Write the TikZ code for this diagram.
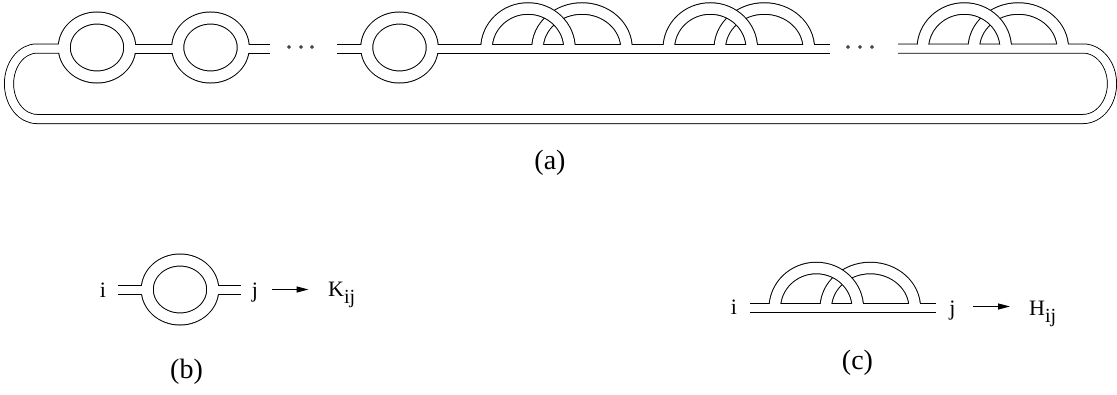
\documentclass[tikz,border=0pt]{standalone}
\usepackage{fontspec}
\setmainfont{Liberation Serif}
\usetikzlibrary{arrows.meta}
\tikzset{
  sB/.style={draw=black,line width=10pt},
  sW/.style={draw=white,line width=8pt},
  rB/.style={draw=black,line width=13pt},
  rW/.style={draw=white,line width=11pt},
  aB/.style={draw=black,line width=12.5pt},
  aW/.style={draw=white,line width=10.5pt},
  lbl/.style={inner sep=0pt,font=\fontsize{28}{30}\selectfont},
  txt/.style={inner sep=0pt,font=\fontsize{22}{24}\selectfont},
  arr/.style={line width=1pt,-{Triangle[length=12pt,width=6pt]}},
  dotc/.style={draw=black,line width=0.7pt}
}
\newcommand\mystrips[1]{%
  \draw[#1] (64.25,48.5) -- (37,48.5)
     arc[start angle=270,end angle=90,x radius=28,y radius=35.25]
     -- (1083,119)
     arc[start angle=90,end angle=-90,x radius=29,y radius=35.25]
     -- (898,48.5);
  \draw[#1] (129.75,48.5) -- (177.75,48.5);
  \draw[#1] (243.25,48.5) -- (270,48.5);
  \draw[#1] (337,48.5) -- (366.75,48.5);
  \draw[#1] (432.25,48.5) -- (830,48.5);
  \draw[#1] (118,289.5) -- (147.25,289.5);
  \draw[#1] (212.75,289.5) -- (241,289.5);
  \draw[#1] (750,308) -- (936,308);
}
\newcommand\myrings[1]{%
  \foreach \cx/\cy in {97/47.5,210.5/47.5,399.5/47.5,180/289.5}
    \draw[#1] (\cx,\cy) ellipse[x radius=32.75,y radius=29.5];
}
\newcommand\mysecondarches[1]{%
  \foreach \cx/\cy in {528/48.5,710.3/48.5,964.3/48.5,816.3/308}
    \draw[#1] (\cx+54-44.5,\cy) arc[start angle=180,end angle=360,x radius=44.5,y radius=40];
}
\newcommand\myfirstarches[1]{%
  \foreach \cx/\cy in {528/48.5,710.3/48.5,964.3/48.5,816.3/308}
    \draw[#1] (\cx-41.5,\cy) arc[start angle=180,end angle=360,x radius=41.5,y radius=40];
}
\newcommand\lowsub[1]{\raisebox{-7pt}{\fontsize{20}{20}\selectfont #1}}
\begin{document}
\begin{tikzpicture}[x=1pt,y=-1pt]
\useasboundingbox (0,0) rectangle (1117,394);
\fill[white] (0,0) rectangle (1117,394);
% black pass
\mystrips{sB}
\myrings{rB}
\mysecondarches{aB}
% white pass
\mystrips{sW}
\myrings{rW}
\mysecondarches{aW}
% over-crossing arches
\myfirstarches{aB}
\myfirstarches{aW}
\mystrips{sW}
% dots
\foreach \x in {289,301,312,848,860,872}
  \draw[dotc] (\x,47) circle[radius=1.4];
% labels
\node[lbl,anchor=base] (la) at (550,169) {(a)};
\node[lbl,anchor=base] (lb) at (186.5,378) {(b)};
\node[lbl,anchor=base] (lc) at (857.5,369) {(c)};
% (b) texts
\node[txt,anchor=base] (bi) at (103,297) {i};
\node[txt,anchor=base] (bj) at (255,297) {j};
\node[txt,anchor=base west] (bK) at (328,296) {K\lowsub{ij}};
\coordinate (ba1) at (272,289.5);
\coordinate (ba2) at (308.5,289.5);
\draw[arr] (ba1) -- (ba2);
% (c) texts
\node[txt,anchor=base] (ci) at (734,314.5) {i};
\node[txt,anchor=base] (cj) at (952.5,315) {j};
\node[txt,anchor=base west] (cH) at (1029,315) {H\lowsub{ij}};
\coordinate (ca1) at (973,306.5);
\coordinate (ca2) at (1010,306.5);
\draw[arr] (ca1) -- (ca2);
\end{tikzpicture}
\end{document}
